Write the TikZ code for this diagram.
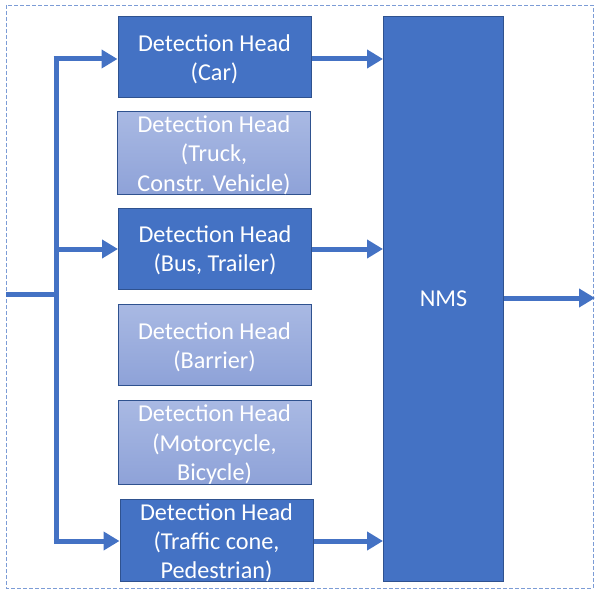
\documentclass[tikz,border=0pt]{standalone}
\usepackage{fontspec}
\setmainfont{Carlito}
\usetikzlibrary{arrows.meta}
\definecolor{obl}{HTML}{4472C4}
\definecolor{obd}{HTML}{2F528F}
\definecolor{lgt}{HTML}{A9B9E3}
\definecolor{lgb}{HTML}{8EA2D8}
\newcommand{\firstln}{\rule{0pt}{21bp}}
\tikzset{
  head/.style={rectangle, draw=obd, line width=1bp, fill=obl, text=white,
    minimum width=193bp, minimum height=81bp, inner sep=0pt, align=center,
    font=\fontsize{24.3}{29.3}\selectfont},
  fadedhead/.style={head, top color=lgt, bottom color=lgb},
  flow/.style={draw=obl, line width=5bp, -{Triangle[length=16bp,width=18bp]}},
  plain/.style={draw=obl, line width=5bp},
}
\begin{document}
\begin{tikzpicture}[x=1bp,y=-1bp]
\useasboundingbox (0,0) rectangle (595,590);
\draw[obl!70, line width=0.8bp, dash pattern=on 4bp off 2bp] (6,5) rectangle (593,588);

\node[head] (car) at (214.5,57.5) {\firstln Detection Head\\(Car)};
\node[fadedhead] (truck) at (214,153) {\firstln Detection Head\\(Truck,\\Constr. Vehicle)};
\node[head] (bus) at (215,248.5) {\firstln Detection Head\\(Bus, Trailer)};
\node[fadedhead] (barrier) at (214.5,345) {\firstln Detection Head\\(Barrier)};
\node[fadedhead] (moto) at (214.5,442.5) {\firstln Detection Head\\(Motorcycle,\\Bicycle)};
\node[head] (traffic) at (216.5,540.5) {\firstln Detection Head\\(Traffic cone,\\Pedestrian)};
\node[head, minimum width=120bp, minimum height=564bp] (nms) at (443.5,299) {NMS};

\coordinate (in) at (6,294);
\coordinate (jn) at (56,294);
\coordinate (top) at (56,59);
\coordinate (bot) at (56,541);
\coordinate (out) at (595,298);

\draw[plain] (in) -- (jn);
\draw[plain] (top) -- (bot);
\draw[flow] (53.5,59) -- (car.west |- 0,59);
\draw[flow] (jn |- 0,249) -- (bus.west |- 0,249);
\draw[flow] (53.5,541) -- (traffic.west |- 0,541);
\draw[flow] (car.east |- 0,59) -- (nms.west |- 0,59);
\draw[flow] (bus.east |- 0,249) -- (nms.west |- 0,249);
\draw[flow] (traffic.east |- 0,541) -- (nms.west |- 0,541);
\draw[flow] (nms.east |- 0,298) -- (out);
\end{tikzpicture}
\end{document}
